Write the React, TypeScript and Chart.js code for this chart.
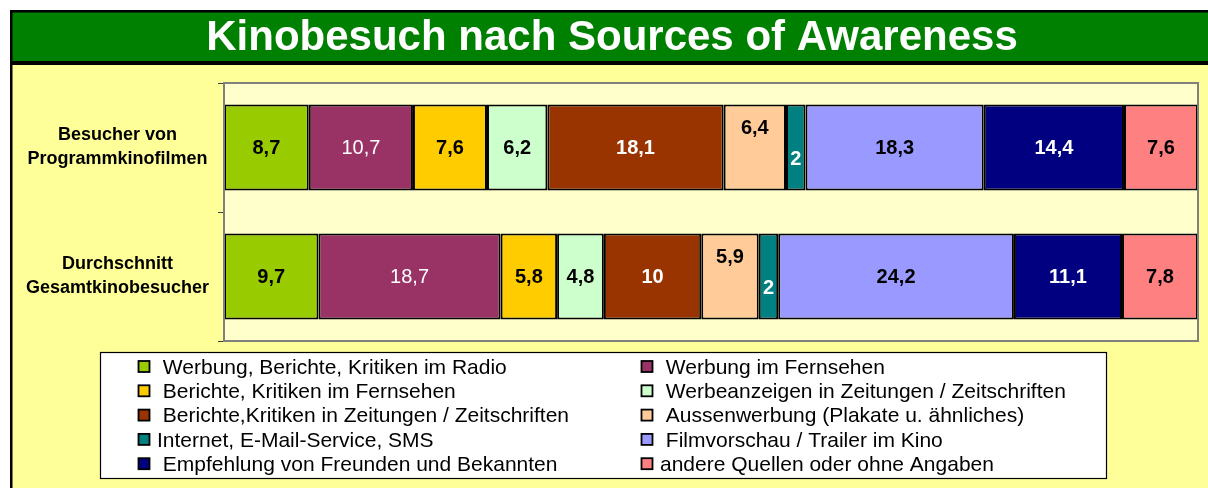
import React, { useEffect, useRef } from 'react';
import { Chart, registerables } from 'chart.js';

Chart.register(...registerables);

const TITLE = 'Kinobesuch nach Sources of Awareness';
const CATEGORIES = [
  ['Besucher von', 'Programmkinofilmen'],
  ['Durchschnitt', 'Gesamtkinobesucher'],
];
const SERIES_LABELS = [
  ' Werbung, Berichte, Kritiken im Radio',
  ' Werbung im Fernsehen',
  ' Berichte, Kritiken im Fernsehen',
  ' Werbeanzeigen in Zeitungen / Zeitschriften',
  ' Berichte,Kritiken in Zeitungen / Zeitschriften',
  ' Aussenwerbung (Plakate u. ähnliches)',
  'Internet, E-Mail-Service, SMS',
  ' Filmvorschau / Trailer im Kino',
  ' Empfehlung von Freunden und Bekannten',
  'andere Quellen oder ohne Angaben',
];
const RADIO = [8.7, 9.7];
const TV_ADS = [10.7, 18.7];
const TV_REVIEWS = [7.6, 5.8];
const PRESS_ADS = [6.2, 4.8];
const PRESS_REVIEWS = [18.1, 10];
const OUTDOOR = [6.4, 5.9];
const INTERNET = [2, 2];
const TRAILER = [18.3, 24.2];
const FRIENDS = [14.4, 11.1];
const OTHER = [7.6, 7.8];
const SERIES_VALUES = [RADIO, TV_ADS, TV_REVIEWS, PRESS_ADS, PRESS_REVIEWS, OUTDOOR, INTERNET, TRAILER, FRIENDS, OTHER];

const SERIES_COLORS = ['#99CC00', '#993366', '#FFCC00', '#CCFFCC', '#993300', '#FFCC99', '#008080', '#9999FF', '#000080', '#FF8080'];
const LABEL_COLORS = ['#000000', '#FFFFFF', '#000000', '#000000', '#FFFFFF', '#000000', '#FFFFFF', '#000000', '#FFFFFF', '#000000'];
const LABEL_BOLD = [true, false, true, true, true, true, true, true, true, true];
const LABEL_SHIFT = [0, 0, 0, 0, 0, -20, 11, 0, 0, 0];

const FONT = 'Arial, "Liberation Sans", sans-serif';

const framePlugin = {
  id: 'frame',
  beforeDraw(chart: any) {
    const { ctx, width, height, chartArea } = chart;
    ctx.save();
    ctx.fillStyle = '#FFFFFF';
    ctx.fillRect(0, 0, width, height);
    // outer black frame
    ctx.fillStyle = '#000000';
    ctx.fillRect(10, 10, width - 10, height - 10);
    // yellow body
    ctx.fillStyle = '#FFFF99';
    ctx.fillRect(12.5, 65, width - 12.5, height - 65);
    // green title band
    ctx.fillStyle = '#008000';
    ctx.fillRect(12.5, 12.5, width - 12.5, 48.5);
    // title text
    ctx.fillStyle = '#FFFFFF';
    ctx.font = `bold 42px ${FONT}`;
    ctx.textAlign = 'center';
    ctx.textBaseline = 'middle';
    ctx.fillText(TITLE, 612, 38);
    // plot area background
    ctx.fillStyle = '#FFFFCC';
    ctx.fillRect(chartArea.left, chartArea.top, chartArea.right - chartArea.left, chartArea.bottom - chartArea.top);
    ctx.restore();
  },
  afterDraw(chart: any) {
    const { ctx, chartArea } = chart;
    ctx.save();
    ctx.strokeStyle = '#808080';
    ctx.lineWidth = 2;
    ctx.strokeRect(chartArea.left, chartArea.top, chartArea.right - chartArea.left, chartArea.bottom - chartArea.top);
    // legend
    const bx = 100, by = 352, bw = 1006, bh = 126;
    ctx.fillStyle = '#FFFFFF';
    ctx.fillRect(bx, by, bw, bh);
    ctx.strokeStyle = '#000000';
    ctx.lineWidth = 1.2;
    ctx.strokeRect(bx + 0.5, by + 0.5, bw, bh);
    ctx.font = `21px ${FONT}`;
    ctx.textAlign = 'left';
    ctx.textBaseline = 'middle';
    chart.data.datasets.forEach((ds: any, i: number) => {
      const col = i % 2;
      const row = Math.floor(i / 2);
      const sx = col === 0 ? 138.5 : 641.5;
      const cy = 367 + row * 24.3;
      ctx.fillStyle = ds.backgroundColor;
      ctx.fillRect(sx, cy - 6, 11, 11);
      ctx.strokeStyle = '#000000';
      ctx.lineWidth = 1.8;
      ctx.strokeRect(sx, cy - 6, 11, 11);
      ctx.fillStyle = '#000000';
      ctx.fillText(ds.label, sx + 18.5, cy + 1);
    });
    ctx.restore();
  },
  afterDatasetsDraw(chart: any) {
    const { ctx } = chart;
    ctx.save();
    ctx.textAlign = 'center';
    ctx.textBaseline = 'middle';
    chart.data.datasets.forEach((ds: any, i: number) => {
      const meta = chart.getDatasetMeta(i);
      meta.data.forEach((el: any, j: number) => {
        const v = ds.data[j];
        const text = String(v).replace('.', ',');
        ctx.font = `${LABEL_BOLD[i] ? 'bold ' : ''}20px ${FONT}`;
        ctx.fillStyle = LABEL_COLORS[i];
        ctx.fillText(text, (el.x + el.base) / 2, el.y + LABEL_SHIFT[i] + 1);
      });
    });
    ctx.restore();
  },
};

export default function App() {
  const ref = useRef<HTMLCanvasElement | null>(null);
  useEffect(() => {
    if (!ref.current) return;
    const chart = new Chart(ref.current, {
      type: 'bar',
      data: {
        labels: CATEGORIES as any,
        datasets: SERIES_VALUES.map((vals, i) => ({
          label: SERIES_LABELS[i],
          data: vals,
          backgroundColor: SERIES_COLORS[i],
          borderColor: '#000000',
          borderWidth: 2,
          borderSkipped: false,
          barPercentage: 0.667,
          categoryPercentage: 1,
        })),
      },
      options: {
        indexAxis: 'y',
        responsive: false,
        animation: false,
        devicePixelRatio: 1,
        layout: { padding: { left: 12, right: 10, top: 83, bottom: 147 } },
        plugins: {
          legend: { display: false },
          title: { display: false },
          tooltip: { enabled: false },
        },
        scales: {
          x: {
            stacked: true,
            min: 0,
            max: 100,
            display: false,
          },
          y: {
            stacked: true,
            afterFit(scale: any) {
              scale.width = 212;
            },
            grid: {
              offset: true,
              drawOnChartArea: false,
              drawTicks: true,
              tickLength: 6,
              color: '#404040',
            },
            border: { display: true, color: '#808080', width: 2 },
            ticks: {
              color: '#000000',
              crossAlign: 'center',
              padding: 9,
              font: { family: FONT, size: 18, weight: 'bold', lineHeight: 1.33 },
            },
          },
        },
      } as any,
      plugins: [framePlugin],
    });
    return () => chart.destroy();
  }, []);
  return (
    <div style={{ position: 'absolute', left: 0, top: 0, width: 1208, height: 488 }}>
      <canvas ref={ref} width={1208} height={488} />
    </div>
  );
}
